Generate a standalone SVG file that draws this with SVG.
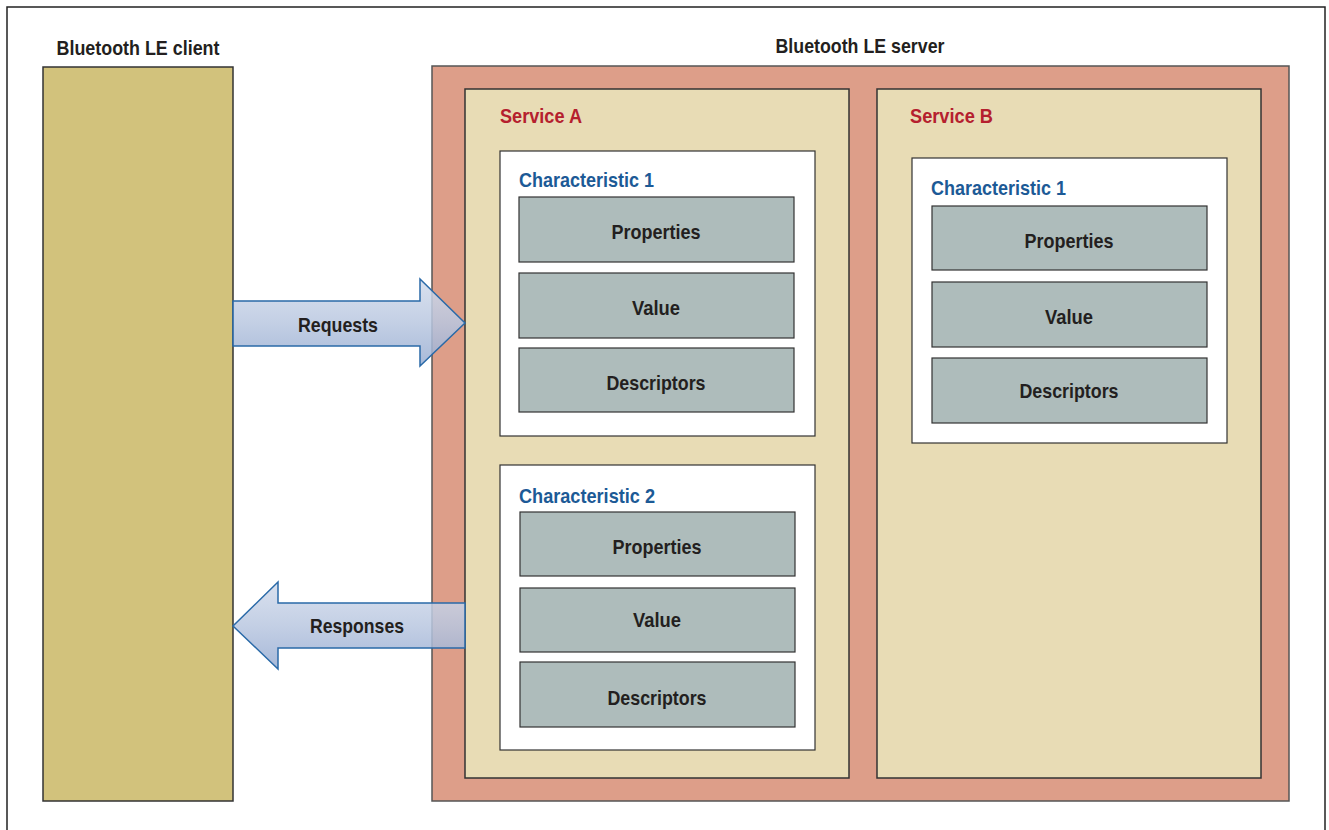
<svg xmlns="http://www.w3.org/2000/svg" width="1329" height="830" viewBox="0 0 1329 830">
<style>
.t{font-family:"Liberation Sans",Arial,sans-serif;font-weight:bold;font-size:21px;fill:#231f20;text-anchor:middle}
.svc{font-family:"Liberation Sans",Arial,sans-serif;font-weight:bold;font-size:21px;fill:#b5202e}
.ch{font-family:"Liberation Sans",Arial,sans-serif;font-weight:bold;font-size:21px;fill:#1c5a96}
.box{fill:#aebcbb;stroke:#333;stroke-width:1.2}
.char{fill:#fff;stroke:#333;stroke-width:1.2}
.service{fill:#e8dcb5;stroke:#333;stroke-width:1.5}
.arrow{fill:url(#ag);stroke:#2a6aa8;stroke-width:1.5}
</style>
<defs>
<linearGradient id="ag" x1="0" y1="0" x2="0" y2="1">
<stop offset="0" stop-color="#d3dcec" stop-opacity="0.85"/>
<stop offset="0.5" stop-color="#b9c7e0" stop-opacity="0.85"/>
<stop offset="1" stop-color="#98add2" stop-opacity="0.85"/>
</linearGradient>
</defs>
<rect x="0" y="0" width="1329" height="830" fill="#fff"/>
<rect x="7" y="7" width="1318" height="840" fill="none" stroke="#222" stroke-width="1.5"/>
<g id="client">
<text class="t" x="138" y="55" textLength="163" lengthAdjust="spacingAndGlyphs">Bluetooth LE client</text>
<rect x="43" y="67" width="190" height="734" fill="#d2c27c" stroke="#333" stroke-width="1.5"/>
</g>
<g id="server">
<text class="t" x="860" y="53" textLength="169" lengthAdjust="spacingAndGlyphs">Bluetooth LE server</text>
<rect x="432" y="66" width="857" height="735" fill="#dd9e89" stroke="#555" stroke-width="1.5"/>
</g>
<g id="serviceA">
<rect class="service" x="465" y="89" width="384" height="689"/>
<text class="svc" x="500" y="123" textLength="82" lengthAdjust="spacingAndGlyphs">Service A</text>
</g>
<g id="serviceA-char1">
<rect class="char" x="500" y="151" width="315" height="285"/>
<text class="ch" x="519" y="187" textLength="135" lengthAdjust="spacingAndGlyphs">Characteristic 1</text>
<rect class="box" x="519" y="197" width="275" height="65"/>
<text class="t" x="656" y="239" textLength="89" lengthAdjust="spacingAndGlyphs">Properties</text>
<rect class="box" x="519" y="273" width="275" height="65"/>
<text class="t" x="656" y="315" textLength="48" lengthAdjust="spacingAndGlyphs">Value</text>
<rect class="box" x="519" y="348" width="275" height="64"/>
<text class="t" x="656" y="390" textLength="99" lengthAdjust="spacingAndGlyphs">Descriptors</text>
</g>
<g id="serviceA-char2">
<rect class="char" x="500" y="465" width="315" height="285"/>
<text class="ch" x="519" y="503" textLength="136" lengthAdjust="spacingAndGlyphs">Characteristic 2</text>
<rect class="box" x="520" y="512" width="275" height="64"/>
<text class="t" x="657" y="554" textLength="89" lengthAdjust="spacingAndGlyphs">Properties</text>
<rect class="box" x="520" y="588" width="275" height="64"/>
<text class="t" x="657" y="627" textLength="48" lengthAdjust="spacingAndGlyphs">Value</text>
<rect class="box" x="520" y="662" width="275" height="65"/>
<text class="t" x="657" y="705" textLength="99" lengthAdjust="spacingAndGlyphs">Descriptors</text>
</g>
<g id="serviceB">
<rect class="service" x="877" y="89" width="384" height="689"/>
<text class="svc" x="910" y="123" textLength="83" lengthAdjust="spacingAndGlyphs">Service B</text>
</g>
<g id="serviceB-char1">
<rect class="char" x="912" y="158" width="315" height="285"/>
<text class="ch" x="931" y="195" textLength="135" lengthAdjust="spacingAndGlyphs">Characteristic 1</text>
<rect class="box" x="932" y="206" width="275" height="64"/>
<text class="t" x="1069" y="248" textLength="89" lengthAdjust="spacingAndGlyphs">Properties</text>
<rect class="box" x="932" y="282" width="275" height="65"/>
<text class="t" x="1069" y="324" textLength="48" lengthAdjust="spacingAndGlyphs">Value</text>
<rect class="box" x="932" y="358" width="275" height="65"/>
<text class="t" x="1069" y="398" textLength="99" lengthAdjust="spacingAndGlyphs">Descriptors</text>
</g>
<g id="connectors">
<path class="arrow" d="M233,301 L420,301 L420,279 L465,323 L420,366 L420,346 L233,346 Z"/>
<text class="t" x="338" y="332" textLength="80" lengthAdjust="spacingAndGlyphs">Requests</text>
<path class="arrow" d="M465,603 L278,603 L278,582 L233,626 L278,669 L278,648 L465,648 Z"/>
<text class="t" x="357" y="633" textLength="94" lengthAdjust="spacingAndGlyphs">Responses</text>
</g>
</svg>
